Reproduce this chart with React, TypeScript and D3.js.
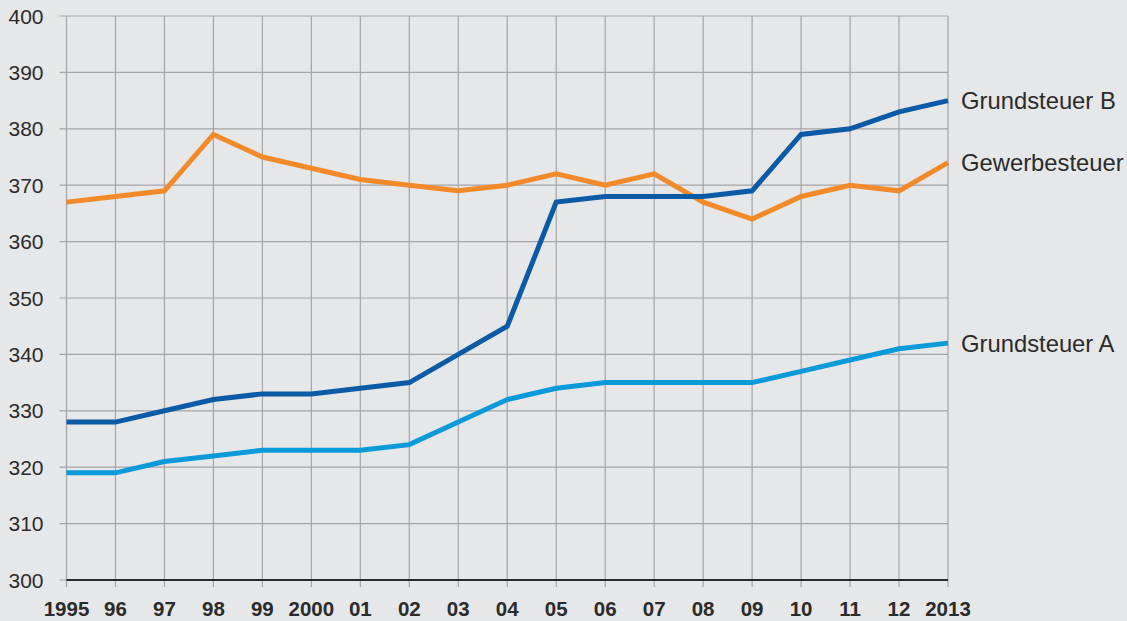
import React, { useEffect, useRef } from 'react';
import * as d3 from 'd3';

const years = [1995, 1996, 1997, 1998, 1999, 2000, 2001, 2002, 2003, 2004, 2005, 2006, 2007, 2008, 2009, 2010, 2011, 2012, 2013];
const yearLabels = ['1995', '96', '97', '98', '99', '2000', '01', '02', '03', '04', '05', '06', '07', '08', '09', '10', '11', '12', '2013'];
const yTicks = [300, 310, 320, 330, 340, 350, 360, 370, 380, 390, 400];

const gewerbesteuer = [367, 368, 369, 379, 375, 373, 371, 370, 369, 370, 372, 370, 372, 367, 364, 368, 370, 369, 374];
const grundsteuerB = [328, 328, 330, 332, 333, 333, 334, 335, 340, 345, 367, 368, 368, 368, 369, 379, 380, 383, 385];
const grundsteuerA = [319, 319, 321, 322, 323, 323, 323, 324, 328, 332, 334, 335, 335, 335, 335, 337, 339, 341, 342];

const seriesNames = ['Grundsteuer A', 'Gewerbesteuer', 'Grundsteuer B'];
const seriesColors = ['#0b9ad9', '#f38a2a', '#0b5aa6'];

const App = () => {
  const svgRef = useRef<SVGSVGElement>(null);

  useEffect(() => {
    const width = 1127, height = 621;
    const margin = { top: 16, right: 179, bottom: 41, left: 66.5 };
    const svg = d3.select(svgRef.current);
    svg.selectAll('*').remove();

    svg.append('rect').attr('width', width).attr('height', height).attr('fill', '#e6e7e9');

    const x = d3.scaleLinear()
      .domain([years[0], years[years.length - 1]])
      .range([margin.left, width - margin.right]);
    const y = d3.scaleLinear()
      .domain([300, 400])
      .range([height - margin.bottom, margin.top]);

    const font = "'Liberation Sans', Arial, sans-serif";

    // horizontal grid
    svg.append('g').selectAll('line')
      .data(yTicks)
      .enter().append('line')
      .attr('x1', margin.left - 7).attr('x2', x(2013))
      .attr('y1', d => y(d)).attr('y2', d => y(d))
      .attr('stroke', '#a4a5a7').attr('stroke-width', 1.2);

    // vertical grid
    svg.append('g').selectAll('line')
      .data(years)
      .enter().append('line')
      .attr('x1', d => x(d)).attr('x2', d => x(d))
      .attr('y1', y(400)).attr('y2', y(300) + 7)
      .attr('stroke', '#a4a5a7').attr('stroke-width', 1.2);

    // baseline
    svg.append('line')
      .attr('x1', margin.left).attr('x2', x(2013))
      .attr('y1', y(300)).attr('y2', y(300))
      .attr('stroke', '#2a2a2a').attr('stroke-width', 2);

    // y labels
    svg.append('g').selectAll('text')
      .data(yTicks)
      .enter().append('text')
      .attr('x', 43.5).attr('y', d => y(d))
      .attr('dy', '0.36em')
      .attr('text-anchor', 'end')
      .attr('font-family', font).attr('font-size', 21)
      .attr('fill', '#2b2b2b')
      .text(d => d);

    // x labels
    svg.append('g').selectAll('text')
      .data(years)
      .enter().append('text')
      .attr('x', d => x(d)).attr('y', 616)
      .attr('text-anchor', 'middle')
      .attr('font-family', font).attr('font-size', 20.5).attr('font-weight', 'bold')
      .attr('fill', '#2b2b2b')
      .text((d, i) => yearLabels[i]);

    const line = d3.line<number>()
      .x((d, i) => x(years[i]))
      .y(d => y(d));

    const allSeries = [grundsteuerA, gewerbesteuer, grundsteuerB];
    allSeries.forEach((s, k) => {
      svg.append('path')
        .datum(s)
        .attr('d', line)
        .attr('fill', 'none')
        .attr('stroke', seriesColors[k])
        .attr('stroke-width', 5)
        .attr('stroke-linejoin', 'miter');

      svg.append('text')
        .attr('x', x(2013) + 13)
        .attr('y', y(s[s.length - 1]))
        .attr('dy', '0.36em')
        .attr('font-family', font).attr('font-size', 23.8)
        .attr('fill', '#2b2b2b')
        .text(seriesNames[k]);
    });
  }, []);

  return <svg ref={svgRef} width={1127} height={621} style={{ display: 'block', position: 'absolute', left: 0, top: 0 }}></svg>;
};

export default App;
